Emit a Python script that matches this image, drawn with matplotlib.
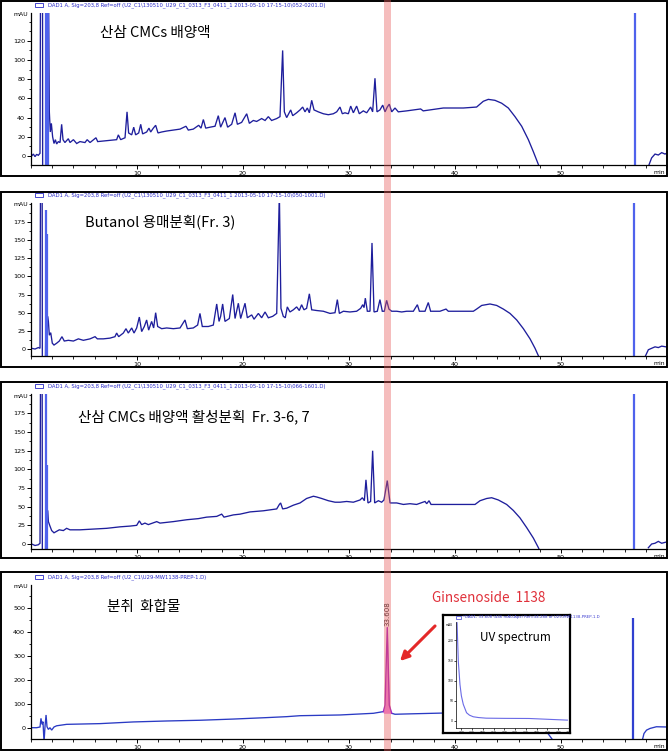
import matplotlib
matplotlib.use("Agg")
import matplotlib.pyplot as plt
from matplotlib.patches import Rectangle, FancyArrowPatch
from matplotlib.ticker import MultipleLocator

# ---------------- data ----------------
# Panel 1: 산삼 CMCs 배양액
p1_t = [0.06, 0.22, 0.38, 0.53, 0.69, 0.85, 0.93, 1.08, 1.10, 1.38,
        1.40, 1.58, 1.73, 1.82, 1.92, 2.04, 2.17, 2.30, 2.42, 2.58,
        2.74, 2.89, 3.02, 3.20, 3.52, 3.68, 4.00, 4.31, 4.62, 5.09,
        5.30, 5.57, 6.13, 6.29, 7.14, 8.08, 8.24, 8.46, 8.87, 9.06,
        9.21, 9.50, 9.69, 9.87, 10.16, 10.35, 10.53, 10.91, 11.13, 11.29,
        11.54, 11.76, 11.98, 12.33, 12.80, 13.43, 14.06, 14.62, 14.84, 15.31,
        15.82, 16.04, 16.26, 16.48, 16.89, 17.36, 17.67, 17.89, 18.30, 18.55,
        18.93, 19.25, 19.47, 19.87, 20.35, 20.60, 20.97, 21.29, 21.76, 22.08,
        22.39, 22.70, 23.18, 23.49, 23.74, 23.90, 24.12, 24.50, 24.69, 25.06,
        25.38, 25.63, 25.85, 26.07, 26.26, 26.48, 26.70, 27.10, 27.58, 28.05,
        28.52, 28.84, 29.15, 29.37, 29.62, 29.94, 30.16, 30.41, 30.72, 30.97,
        31.35, 31.67, 32.04, 32.23, 32.45, 32.64, 32.92, 33.18, 33.40, 33.61,
        33.80, 34.03, 34.34, 34.65, 35.44, 36.76, 37.00, 38.90, 40.79, 42.04,
        42.36, 42.67, 43.14, 43.77, 44.40, 45.03, 45.66, 46.29, 46.92, 47.39,
        47.87, 48.18]
p1_v = [0, 2, -0.7, 1.7, 0.7, 2.8, 300, 300, -20, -20,
        300, 300, 46, 25, 34, 20, 13, 17, 12.5, 15,
        14, 33, 17, 14, 18, 14, 17, 13, 15, 14,
        17, 14, 19, 15, 16, 17, 22, 17, 19, 46,
        24, 22, 30, 22, 24, 33, 23, 25, 29, 25,
        29, 32, 24, 25, 26, 27, 28, 31, 27, 28,
        32, 29, 38, 29, 30, 31, 42, 30, 40, 30,
        33, 45, 33, 35, 44, 34, 37, 36, 39, 37,
        41, 37, 39, 41, 110, 46, 40, 48, 42, 45,
        48, 51, 46, 50, 45, 58, 48, 46, 44, 43,
        44, 46, 51, 44, 45, 44, 52, 45, 52, 44,
        47, 45, 51, 46, 81, 46, 48, 53, 46, 51,
        54, 46, 50, 46, 47, 49, 47, 50, 50, 51,
        54, 57, 59, 58, 55, 50, 41, 31, 17, 4.5,
        -9, -20]
p1_tail_t = [58.24, 58.55, 58.87, 59.18, 59.50, 59.81, 60.10]
p1_tail_v = [-11, -2, 2, 1, 3.5, 2, 3.5]
p1_spike_t = [1.40, 1.57, 57.0]
p1_spike_top = [300, 300, 300]

# Panel 2: Butanol 용매분획(Fr. 3)
p2_t = [0.06, 0.38, 0.69, 0.85, 0.91, 1.05, 1.07, 1.36, 1.40, 1.58,
        1.64, 1.73, 1.86, 2.01, 2.17, 2.42, 2.67, 2.92, 3.14, 3.52,
        4.00, 4.47, 4.94, 5.57, 6.04, 6.26, 6.82, 7.45, 7.92, 8.08,
        8.27, 8.71, 8.96, 9.18, 9.50, 9.72, 9.97, 10.22, 10.44, 10.69,
        10.91, 11.10, 11.38, 11.57, 11.76, 11.95, 12.33, 12.80, 13.43, 14.06,
        14.53, 14.75, 15.31, 15.72, 15.94, 16.16, 16.73, 17.20, 17.52, 17.74,
        17.89, 18.08, 18.30, 18.71, 19.03, 19.25, 19.56, 19.78, 20.19, 20.41,
        20.82, 21.04, 21.45, 21.76, 22.08, 22.39, 22.80, 23.18, 23.43, 23.58,
        23.80, 23.99, 24.18, 24.43, 24.75, 25.06, 25.31, 25.53, 25.75, 26.00,
        26.26, 26.48, 26.95, 27.58, 28.21, 28.68, 28.90, 29.09, 29.47, 30.09,
        30.72, 31.10, 31.29, 31.42, 31.54, 31.73, 31.98, 32.17, 32.36, 32.67,
        32.92, 33.14, 33.33, 33.55, 33.77, 34.03, 34.50, 34.97, 35.44, 36.07,
        36.45, 36.64, 37.17, 37.48, 37.70, 38.58, 39.15, 39.37, 41.73, 42.04,
        42.52, 43.30, 43.93, 44.56, 45.19, 45.82, 46.45, 47.08, 47.55, 47.92,
        48.18]
p2_v = [1, 0, 2, 1, 300, 300, -20, -20, 40, 45,
        38, 19, 22.5, 8, 5.5, 8, 11, 17, 11, 12,
        11, 14, 12, 14, 17, 14, 14, 15, 17, 22,
        17, 22, 28, 22, 29, 22, 29, 44, 24, 31,
        40, 26, 38, 29, 50, 31, 28, 29, 28, 29,
        40, 28, 29, 33, 49, 31, 31, 33, 62, 38,
        45, 62, 38, 42, 75, 42, 63, 42, 63, 43,
        47, 41, 49, 43, 51, 43, 45, 49, 215, 56,
        45, 43, 58, 51, 54, 58, 53, 61, 54, 56,
        76, 54, 53, 52, 49, 50, 68, 49, 52, 51,
        52, 56, 61, 57, 70, 52, 52, 146, 51, 52,
        68, 52, 52, 67, 55, 52, 52, 51, 52, 52,
        61, 52, 52, 64, 52, 52, 55, 52, 52, 55,
        60, 62, 60, 55, 49, 40, 28, 14, 1, -11,
        -20]
p2_tail_t = [57.92, 58.24, 58.55, 58.87, 59.18, 59.50, 59.90]
p2_tail_v = [-11, -1, 1, 3, 2, 4, 3]
p2_spike_t = [1.40, 1.50, 56.85]
p2_spike_top = [192, 158, 300]

# Panel 3: 산삼 CMCs 배양액 활성분획 Fr. 3-6, 7
p3_t = [0.06, 0.38, 0.69, 0.85, 0.91, 1.05, 1.07, 1.36, 1.40, 1.58,
        1.64, 1.79, 1.95, 2.17, 2.42, 2.67, 3.05, 3.36, 3.68, 4.62,
        5.88, 7.14, 8.40, 9.34, 9.97, 10.22, 10.44, 10.75, 11.07, 11.86,
        12.17, 13.43, 14.69, 15.79, 16.57, 17.52, 17.99, 18.21, 19.09, 19.72,
        20.66, 21.92, 23.18, 23.43, 23.55, 23.74, 24.12, 24.75, 25.38, 26.00,
        26.64, 26.95, 27.42, 28.05, 28.68, 29.15, 29.78, 30.41, 31.04, 31.26,
        31.45, 31.60, 31.79, 32.04, 32.23, 32.42, 32.77, 33.08, 33.30, 33.61,
        33.87, 34.50, 35.13, 35.75, 36.38, 37.17, 37.33, 37.55, 37.74, 38.58,
        41.89, 42.36, 42.99, 43.46, 44.09, 44.87, 45.50, 46.13, 46.76, 47.39,
        47.87, 48.18]
p3_v = [0, -2, -1, 1, 300, 300, -20, -20, 40, 45,
        30, 24, 18, 15, 17, 19, 18, 21, 19, 19,
        20, 21, 23, 24, 25, 31, 26, 28, 26, 30,
        28, 30, 32.5, 34, 36, 37, 40, 36, 39, 40,
        43, 44.5, 47, 53, 55, 47, 48, 52, 55, 61,
        64, 63, 61, 58, 56, 56, 57, 56, 59, 62,
        58, 86, 55, 57, 125, 55, 58, 56, 59, 85,
        55, 55, 53, 54, 53, 57, 54, 58, 53, 53,
        53, 58, 61, 62, 59, 53, 45, 35, 22, 8,
        -5, -15]
p3_tail_t = [58.24, 58.55, 58.87, 59.18, 59.50, 59.90]
p3_tail_v = [-5, 0, 1, 3.5, 1, 2.5]
p3_spike_t = [1.40, 1.50, 56.85]
p3_spike_top = [300, 106, 300]

# Panel 4: 분취 화합물
p4_t = [0.06, 0.53, 0.85, 0.94, 1.04, 1.13, 1.23, 1.32, 1.42, 1.51,
        1.64, 1.79, 1.95, 2.17, 2.42, 2.89, 3.36, 6.51, 9.65, 12.80,
        15.94, 19.09, 22.23, 24.12, 25.38, 29.15, 32.30, 33.24]
p4_v = [0, 0, 3, 39, 14, 25, -60, 4, 53, 4,
        -7, 0, -10, 3, 8, 11, 14, 17, 24, 28,
        31, 36, 42, 46, 50, 53, 60, 67]
p4_peak_t = [33.24, 33.40, 33.61, 33.80, 34.03]
p4_peak_v = [67, 94, 417, 94, 60]
p4_peak_base = 60
p4_post_t = [34.03, 34.34, 36.07, 38.90, 41.50, 42.50, 43.50, 45.00, 46.50, 47.50, 48.65, 49.20]
p4_post_v = [60, 56, 58, 61, 64, 68, 75, 65, 45, 25, -17, -50]
p4_tail_t = [57.70, 57.83, 58.07, 58.40, 59.00, 59.97]
p4_tail_v = [-47, -24, -10, -3, 4, 3]
p4_spike_t = [56.80]
p4_spike_top = [458]
p4_peak_label = "33.608"

# UV spectrum inset
uv_nm = [190.5, 192, 194.3, 197.4, 200, 203.5, 209.6, 215, 222, 232, 246, 280, 326, 397]
uv_abs = [260, 242, 148, 90, 62, 41, 20, 14, 10, 8, 6.5, 6, 5.7, 1.6]
uv_xticks = [200, 220, 240, 260, 280, 300, 320, 340, 360, 380, 400]
uv_yticks = [0, 50, 100, 150, 200]

# axis ticks
x_ticks = [10, 20, 30, 40, 50]
p1_yticks = [0, 20, 40, 60, 80, 100, 120]
p2_yticks = [0, 25, 50, 75, 100, 125, 150, 175]
p3_yticks = [0, 25, 50, 75, 100, 125, 150, 175]
p4_yticks = [0, 100, 200, 300, 400, 500]

headers = [
    "DAD1 A, Sig=203,8 Ref=off (U2_C1\\130510_U29_C1_0313_F3_0411_1 2013-05-10 17-15-10\\052-0201.D)",
    "DAD1 A, Sig=203,8 Ref=off (U2_C1\\130510_U29_C1_0313_F3_0411_1 2013-05-10 17-15-10\\050-1001.D)",
    "DAD1 A, Sig=203,8 Ref=off (U2_C1\\130510_U29_C1_0313_F3_0411_1 2013-05-10 17-15-10\\066-1601.D)",
    "DAD1 A, Sig=203,8 Ref=off (U2_C1\\U29-MW1138-PREP-1.D)",
]
titles = ["산삼 CMCs 배양액", "Butanol 용매분획(Fr. 3)",
          "산삼 CMCs 배양액 활성분획  Fr. 3-6, 7", "분취  화합물"]
compound_label = "Ginsenoside  1138"
inset_header = "*DAD1, 33.608 (446 mAU,Apx) Ref=34.288 of U29-MW1138-PREP-1.D"
inset_title = "UV spectrum"

# ---------------- drawing ----------------
SMALL = ['Liberation Sans Narrow', 'DejaVu Sans']
KR = ['Noto Sans CJK KR', 'DejaVu Sans']
plt.rcParams['font.family'] = SMALL

W, H = 668, 751
fig = plt.figure(figsize=(W / 100, H / 100), dpi=100)
fig.patch.set_facecolor('white')


def rect(x0, y0, x1, y1):
    return [x0 / W, 1 - y1 / H, (x1 - x0) / W, (y1 - y0) / H]


def fx(x):
    return x / W


def fy(y):
    return 1 - y / H


DARK = '#1e1e9c'
LIGHT = '#4f62ec'

layout = [
    dict(frame=(1, 1, 667, 176), top=13, bottom=165, ylim=(-9.4, 149), hy=5, ty=33, tx=100),
    dict(frame=(1, 192, 667, 367), top=203, bottom=356, ylim=(-9.6, 201), hy=195, ty=222, tx=85),
    dict(frame=(1, 382, 667, 558), top=394, bottom=549, ylim=(-6.7, 201), hy=386, ty=417, tx=78),
    dict(frame=(1, 572, 667, 750), top=585, bottom=739, ylim=(-47, 594), hy=577, ty=607, tx=107),
]
traces = [
    [(p1_t, p1_v), (p1_tail_t, p1_tail_v)],
    [(p2_t, p2_v), (p2_tail_t, p2_tail_v)],
    [(p3_t, p3_v), (p3_tail_t, p3_tail_v)],
    [(p4_t, p4_v), (p4_post_t, p4_post_v), (p4_tail_t, p4_tail_v)],
]
spikes = [(p1_spike_t, p1_spike_top), (p2_spike_t, p2_spike_top),
          (p3_spike_t, p3_spike_top), (p4_spike_t, p4_spike_top)]
yticks = [p1_yticks, p2_yticks, p3_yticks, p4_yticks]

axes = []
for i, L in enumerate(layout):
    x0, y0, x1, y1 = L['frame']
    fig.add_artist(Rectangle((fx(x0), fy(y1)), (x1 - x0) / W, (y1 - y0) / H,
                             transform=fig.transFigure, fill=False, ec='black',
                             lw=1.4, zorder=5))
    ax = fig.add_axes(rect(31, L['top'], 667, L['bottom']))
    ax.patch.set_alpha(0)
    ax.set_xlim(0, 60)
    ax.set_ylim(*L['ylim'])
    for s in ('top', 'right'):
        ax.spines[s].set_visible(False)
    for s in ('left', 'bottom'):
        ax.spines[s].set_linewidth(0.9)
    ax.set_xticks(x_ticks)
    ax.xaxis.set_minor_locator(MultipleLocator(2))
    yt = yticks[i]
    ax.set_yticks(yt)
    ax.yaxis.set_minor_locator(MultipleLocator((yt[1] - yt[0]) / 2))
    ax.tick_params(which='major', length=3, width=0.7, labelsize=4.6, pad=1.2)
    ax.tick_params(which='minor', length=1.8, width=0.6)
    tcol = '#2a3ac4' if i == 3 else DARK
    for tt, vv in traces[i]:
        ax.plot(tt, vv, color=tcol, lw=0.95, solid_joinstyle='miter')
    st, sh = spikes[i]
    ax.vlines(st, -100, sh, color=LIGHT if i < 3 else '#3040d0', lw=1.6)
    # header
    fig.text(fx(48), fy(L['hy']), headers[i], fontsize=3.8, color='#2a2ac8',
             va='center', ha='left', zorder=20)
    fig.add_artist(Rectangle((fx(35), fy(L['hy'] + 2)), 8 / W, 4 / H,
                             transform=fig.transFigure, fill=False, ec='#2a2ac8',
                             lw=0.6, zorder=20))
    fig.text(fx(28), fy(L['top'] + 2), 'mAU', fontsize=4.4, ha='right', va='center',
             zorder=20)
    fig.text(fx(665), fy(L['bottom'] + 7.5), 'min', fontsize=4.4, ha='right',
             va='center', zorder=20)
    fig.text(fx(L['tx']), fy(L['ty']), titles[i], fontsize=10.5, family=KR,
             ha='left', va='center', zorder=20)
    axes.append(ax)

ax4 = axes[3]
ax4.fill_between(p4_peak_t, p4_peak_v, p4_peak_base, color='#f08ae0', lw=0)
ax4.plot(p4_peak_t, p4_peak_v, color='#a828c0', lw=1.0)
ax4.text(p4_peak_t[2], p4_peak_v[2] + 8, p4_peak_label, rotation=90, fontsize=5,
         ha='center', va='bottom', color='#222222')

# highlight band across all panels at the compound's retention time
fig.canvas.draw()
bx0 = axes[0].transData.transform((p4_peak_t[2] - 0.32, 0))[0]
bx1 = axes[0].transData.transform((p4_peak_t[2] + 0.34, 0))[0]
fig.add_artist(Rectangle((bx0 / W, 0), (bx1 - bx0) / W, 1, transform=fig.transFigure,
                         color='#e85a5a', alpha=0.4, lw=0, zorder=6))

# compound label and arrow
fig.text(fx(432), fy(598), compound_label, fontsize=9.7, family=KR, color='#e0303a',
         ha='left', va='center', zorder=20)
fig.add_artist(FancyArrowPatch((fx(437), fy(624)), (fx(398), fy(663)),
                               transform=fig.transFigure, arrowstyle='-|>',
                               mutation_scale=13, lw=2.2, color='#e42828', zorder=21))

# inset UV spectrum
box = fig.add_axes(rect(443, 615, 570, 733), zorder=10)
box.set_xticks([])
box.set_yticks([])
for s in box.spines.values():
    s.set_linewidth(1.6)
inner = fig.add_axes(rect(456, 622, 569, 728), zorder=11)
inner.patch.set_alpha(0)
inner.set_xlim(190, 400)
inner.set_ylim(-18, 246)
inner.plot(uv_nm, uv_abs, color='#6a6ae6', lw=0.8)
for s in ('top', 'right'):
    inner.spines[s].set_visible(False)
for s in ('left', 'bottom'):
    inner.spines[s].set_linewidth(0.5)
    inner.spines[s].set_linestyle((0, (1, 1)))
inner.set_xticks(uv_xticks)
inner.set_yticks(uv_yticks)
inner.tick_params(length=1.5, width=0.5, labelsize=2.2, pad=0.5)
fig.text(fx(463), fy(617), inset_header, fontsize=2.8, color='#3a3ad0',
         ha='left', va='center', zorder=20)
fig.add_artist(Rectangle((fx(456), fy(619)), 5 / W, 3 / H, transform=fig.transFigure,
                         fill=False, ec='#3a3ad0', lw=0.5, zorder=20))
fig.text(fx(449), fy(625), 'mAU', fontsize=2.2, ha='center', va='center', zorder=20)
fig.text(fx(480), fy(638), inset_title, fontsize=8.5, family=KR, ha='left',
         va='center', zorder=20)

fig.savefig('out.png', dpi=100, facecolor='white')
